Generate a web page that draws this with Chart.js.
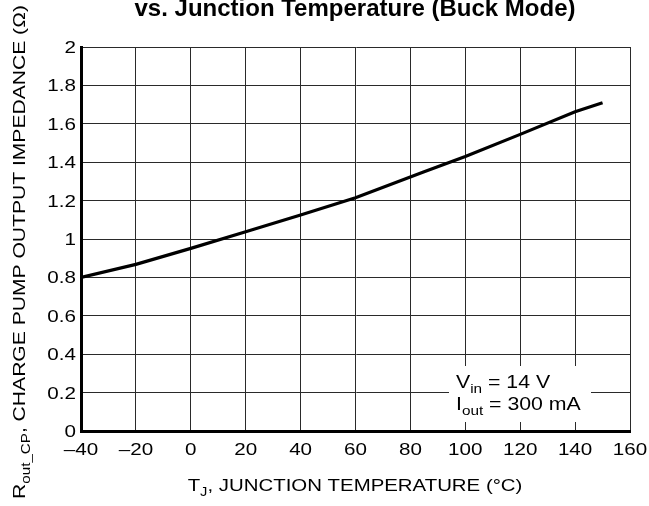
<!DOCTYPE html>
<html><head><meta charset="utf-8">
<script src="https://cdn.jsdelivr.net/npm/chart.js@4/dist/chart.umd.min.js"></script>
<style>html,body{margin:0;padding:0;background:#fff}#wrap{width:649px;height:506px;position:relative}</style>
</head><body><div id="wrap"><canvas id="c" width="649" height="506"></canvas></div>
<script>
const temperatures = [-40, -20, 0, 20, 40, 60, 85, 100, 120, 140, 150];
const impedance = [0.80, 0.868, 0.951, 1.038, 1.125, 1.215, 1.35, 1.43, 1.545, 1.663, 1.71];
const xTicks = [-40, -20, 0, 20, 40, 60, 80, 100, 120, 140, 160];
const yTicks = [0, 0.2, 0.4, 0.6, 0.8, 1, 1.2, 1.4, 1.6, 1.8, 2];
const titleText = "vs. Junction Temperature (Buck Mode)";
const FONT = '"Liberation Sans", Arial, sans-serif';

function drawRich(ctx, parts, x, y, size, sx, align) {
  const sub = size * 0.72;
  let w = 0;
  parts.forEach(p => { ctx.font = (p[1] ? sub : size) + 'px ' + FONT; w += ctx.measureText(p[0]).width; });
  ctx.save();
  ctx.translate(x, y);
  ctx.scale(sx, 1);
  let cx = align === 'center' ? -w/2 : (align === 'right' ? -w : 0);
  parts.forEach(p => {
    ctx.font = (p[1] ? sub : size) + 'px ' + FONT;
    ctx.textAlign = 'left';
    ctx.fillText(p[0], cx, p[1] ? size * 0.28 : 0);
    cx += ctx.measureText(p[0]).width;
  });
  ctx.restore();
}

const decor = {
  id: 'decor',
  beforeDatasetsDraw(chart) {
    const ctx = chart.ctx;
    ctx.save();
    ctx.fillStyle = '#fff';
    ctx.fillRect(449, 366, 142, 56);
    ctx.restore();
  },
  afterDraw(chart) {
    const ctx = chart.ctx, xs = chart.scales.x, ys = chart.scales.y;
    ctx.save();
    ctx.fillStyle = '#000';
    ctx.textBaseline = 'alphabetic';
    xTicks.forEach(v => {
      drawRich(ctx, [[String(v).replace('-', '\u2013'), false]], xs.getPixelForValue(v), 455, 16.5, 1.25, 'center');
    });
    yTicks.forEach(v => {
      drawRich(ctx, [[String(v), false]], 76, ys.getPixelForValue(v) + 6, 16.5, 1.25, 'right');
    });
    ctx.font = 'bold 24px ' + FONT;
    ctx.textAlign = 'center';
    ctx.fillText(titleText, 355, 16);
    drawRich(ctx, [['T', false], ['J', true], [', JUNCTION TEMPERATURE (\u00B0C)', false]], 355, 491, 17, 1.2, 'center');
    ctx.save();
    ctx.translate(25, 252);
    ctx.rotate(-Math.PI/2);
    drawRich(ctx, [['R', false], ['out_CP', true], [', CHARGE PUMP OUTPUT IMPEDANCE (\u03A9)', false]], 0, 0, 17, 1.24, 'center');
    ctx.restore();
    drawRich(ctx, [['V', false], ['in', true], [' = 14 V', false]], 456, 388, 19, 1.12, 'left');
    drawRich(ctx, [['I', false], ['out', true], [' = 300 mA', false]], 456, 410, 19, 1.12, 'left');
    ctx.restore();
  }
};

new Chart(document.getElementById('c'), {
  type: 'line',
  data: {
    datasets: [{
      data: temperatures.map((t, i) => ({x: t, y: impedance[i]})),
      borderColor: '#000',
      borderWidth: 3.2,
      pointRadius: 0,
      tension: 0,
      fill: false
    }]
  },
  options: {
    responsive: false,
    animation: false,
    devicePixelRatio: 1,
    layout: {padding: {left: 0, top: 47, right: 19, bottom: 0}},
    plugins: {legend: {display: false}, tooltip: {enabled: false}, title: {display: false}},
    scales: {
      x: {
        type: 'linear', min: -40, max: 160,
        afterBuildTicks: s => { s.ticks = xTicks.map(v => ({value: v})); },
        afterFit: s => { s.height = 75; },
        ticks: {display: false},
        grid: {color: '#2a2a2a', lineWidth: 1, drawTicks: false},
        border: {color: '#000', width: 3}
      },
      y: {
        min: 0, max: 2,
        afterBuildTicks: s => { s.ticks = yTicks.map(v => ({value: v})); },
        afterFit: s => { s.width = 81; },
        ticks: {display: false},
        grid: {color: '#2a2a2a', lineWidth: 1, drawTicks: false},
        border: {color: '#000', width: 3}
      }
    }
  },
  plugins: [decor]
});
</script></body></html>
